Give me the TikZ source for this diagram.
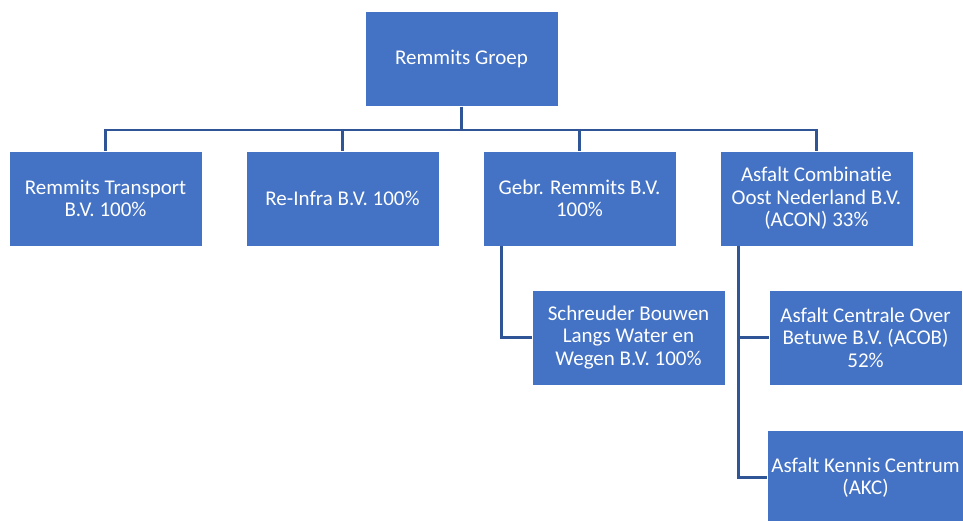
\documentclass[tikz,border=0pt]{standalone}
\usepackage{fontspec}
\setmainfont{Carlito}[Ligatures=NoCommon]
\usepackage{xcolor}
\usetikzlibrary{calc}
\definecolor{orgfill}{HTML}{4472C4}
\definecolor{orgline}{HTML}{2F5597}
\tikzset{
    orgbox/.style={rectangle, fill=orgfill, draw=white, line width=0.4pt, text=white,
        minimum width=96.5pt, minimum height=47.5pt, inner sep=2pt, align=center,
        font=\fontsize{10.5}{11.2}\selectfont},
    orglink/.style={draw=orgline, line width=1.3pt}
}
\begin{document}
\begin{tikzpicture}[x=0.5pt,y=-0.5pt]
        \newcommand{\orgrowa}{198.5}
        \newcommand{\orgrowb}{337.5}
        \newcommand{\orgrowc}{477.5}
        \newcommand{\orgbusy}{23}
        \useasboundingbox (0,0) rectangle (963,520);
        \node[orgbox] (groep) at (461.5,59) {Remmits Groep};
        \node[orgbox] (transport) at (105.5,\orgrowa) {Remmits Transport\\B.V. 100\%};
        \node[orgbox] (reinfra) at (342.5,\orgrowa) {Re-Infra B.V. 100\%};
        \node[orgbox] (gebr) at (579.5,\orgrowa) {Gebr. Remmits B.V.\\100\%};
        \node[orgbox] (acon) at (816.5,\orgrowa) {Asfalt Combinatie\\Oost Nederland B.V.\\(ACON) 33\%};
        \node[orgbox] (schreuder) at (628.5,\orgrowb) {Schreuder Bouwen\\Langs Water en\\Wegen B.V. 100\%};
        \node[orgbox] (acob) at (865.5,\orgrowb) {Asfalt Centrale Over\\Betuwe B.V. (ACOB)\\52\%};
        \node[orgbox] (akc) at (865.5,\orgrowc) {Asfalt Kennis Centrum\\(AKC)};
        % bus under the top box
        \draw[orglink] (groep.south) -- ++(0,\orgbusy) -| (transport.north);
        \draw[orglink] (groep.south) -- ++(0,\orgbusy) -| (reinfra.north);
        \draw[orglink] (groep.south) -- ++(0,\orgbusy) -| (gebr.north);
        \draw[orglink] (groep.south) -- ++(0,\orgbusy) -| (acon.north);
        % side branches
        \draw[orglink] ([xshift=9.5pt]gebr.south west) |- (schreuder.west);
        \draw[orglink] ([xshift=9.5pt]acon.south west) |- (acob.west);
        \draw[orglink] ([xshift=9.5pt]acon.south west) |- (akc.west);
\end{tikzpicture}
\end{document}
